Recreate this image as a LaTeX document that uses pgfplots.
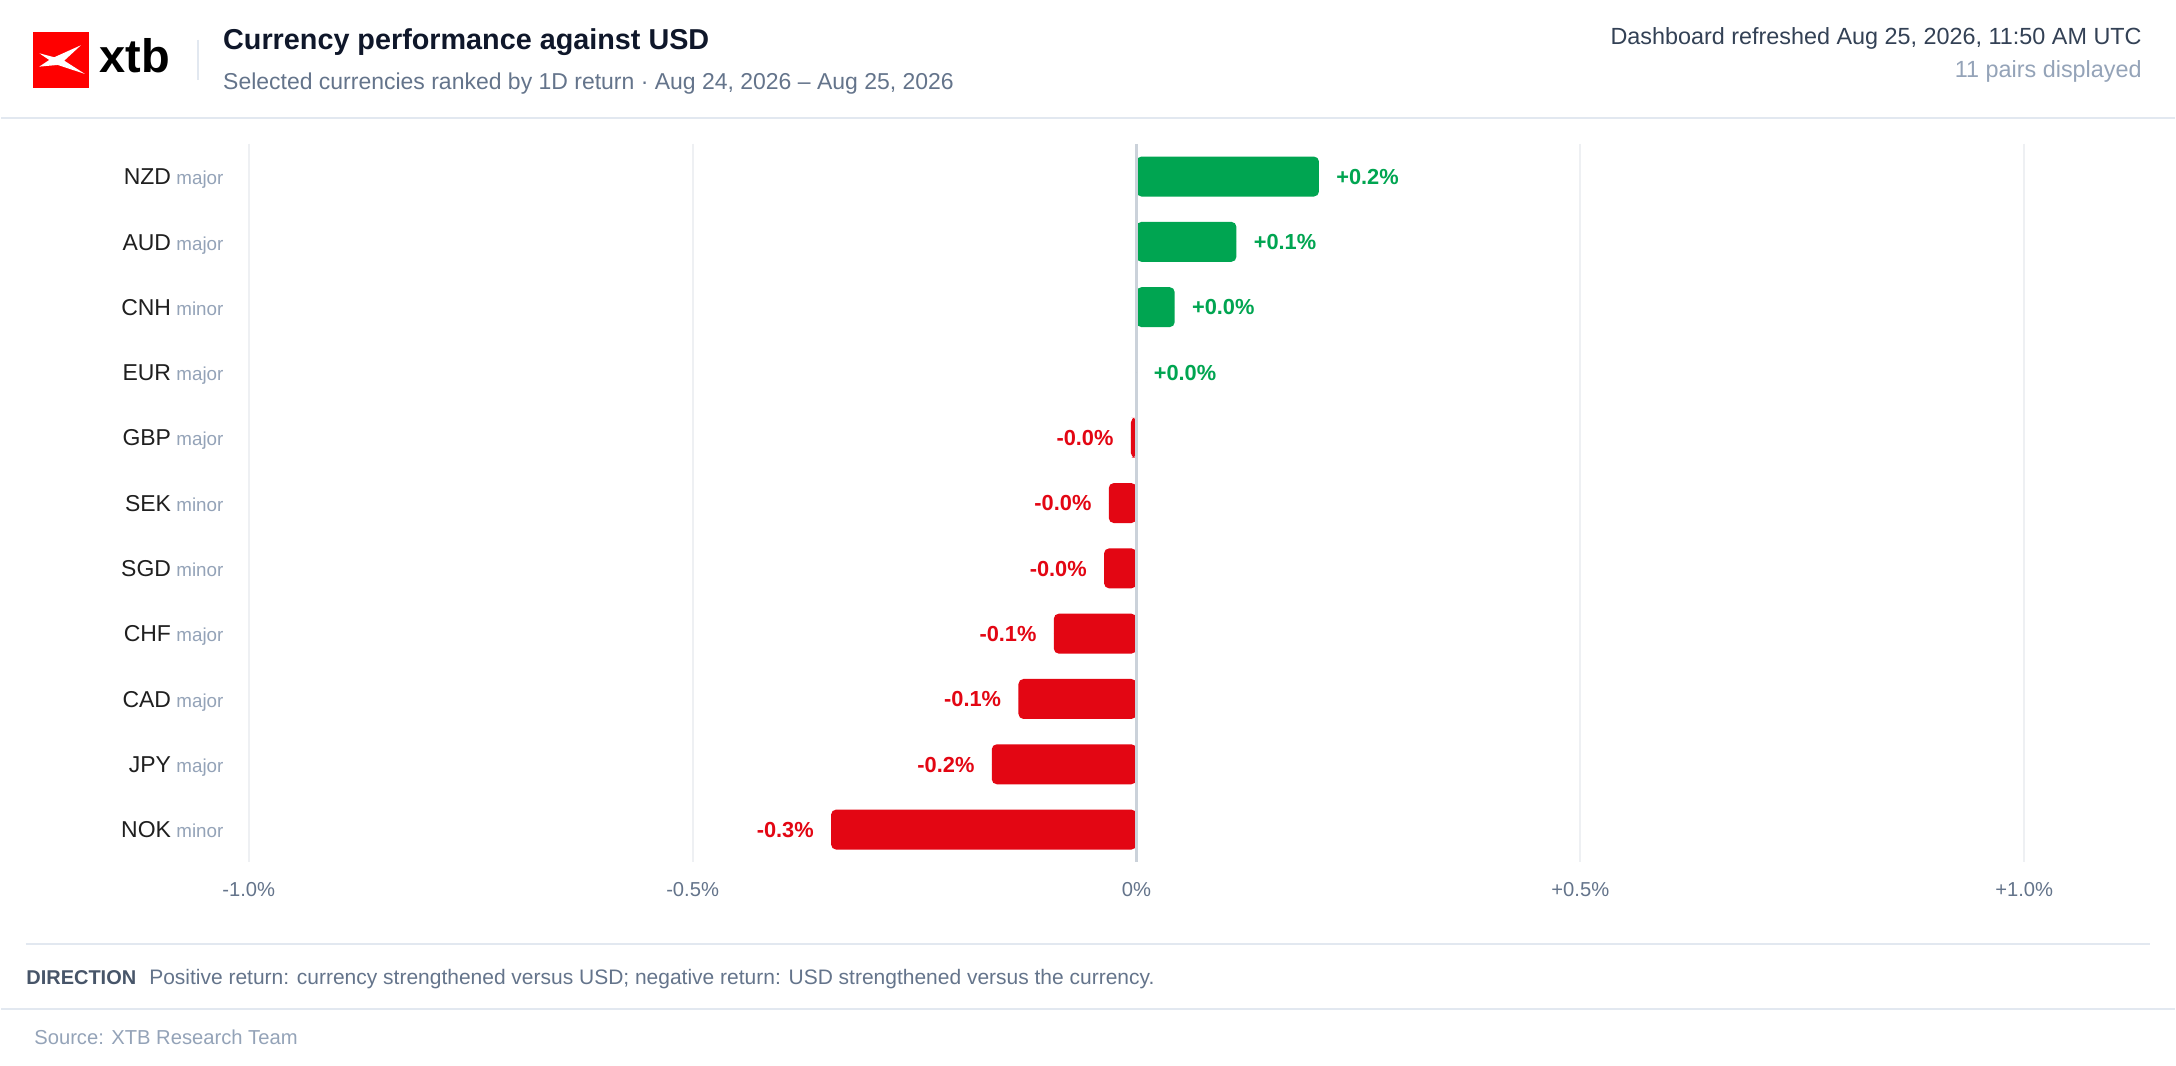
\documentclass[border=0pt]{standalone}
\usepackage{pgfplots}
\pgfplotsset{compat=1.18}
\usepackage{pgfplotstable}
\usepackage{fontspec}
\setmainfont{Liberation Sans}
\definecolor{posc}{HTML}{00A551}
\definecolor{negc}{HTML}{E30613}
\definecolor{ttl}{HTML}{0F172A}
\definecolor{slate}{HTML}{64748B}
\definecolor{dash}{HTML}{334155}
\definecolor{muted}{HTML}{94A3B8}
\definecolor{codec}{HTML}{1F1F1F}
\definecolor{gridc}{HTML}{EEF0F3}
\definecolor{zeroc}{HTML}{CBD2DA}
\definecolor{rulec}{HTML}{E2E8F0}
\definecolor{dirc}{HTML}{475569}
\definecolor{xtbred}{HTML}{FF0000}
\newcommand\fs[1]{\fontsize{#1}{#1}\selectfont}
\newcommand\cl[2]{{\fs{11.5}\color{codec}#1}\hspace{2.7pt}{\fs{9.4}\color{muted}#2}}

\pgfplotstableread{
r v
0 0.2056
1 0.1126
2 0.0431
}\postab
\pgfplotstableread{
r v
4 -0.0064
5 -0.0312
6 -0.0365
7 -0.0931
8 -0.1329
9 -0.1630
10 -0.3440
}\negtab

\begin{document}
\begin{tikzpicture}[x=0.5pt,y=-0.5pt]
\fill[white] (0,0) rectangle (2176,1066);
% logo
\fill[xtbred] (32,32) rectangle (88,88);
\fill[white] (38.3,53.3) -- (53.3,57.3) -- (80,45.3) -- (63.3,60.7) -- (84,74) -- (56.7,65) -- (38.3,66.7) -- (48.3,60) -- cycle;
\node[anchor=base west, inner sep=0pt] at (98,73) {\fs{23.5}\bfseries xtb};
\draw[rulec, line width=1pt] (197,40) -- (197,80);
\node[anchor=base west, inner sep=0pt] at (222,50) {\fs{14.4}\bfseries\color{ttl}Currency performance against USD};
\node[anchor=base west, inner sep=0pt] at (222,90) {\fs{11.5}\color{slate}Selected currencies ranked by 1D return · Aug 24, 2026 – Aug 25, 2026};
\node[anchor=base east, inner sep=0pt] at (2143,44.4) {\fs{11.7}\color{dash}Dashboard refreshed Aug 25, 2026, 11:50 AM UTC};
\node[anchor=base east, inner sep=0pt] at (2143,77.8) {\fs{11.7}\color{muted}11 pairs displayed};
\draw[rulec, line width=1pt] (0,118) -- (2176,118);
% footer
\draw[rulec, line width=1pt] (25,945) -- (2151,945);
\node[anchor=base west, inner sep=0pt] at (25,985) {\fs{10}\bfseries\color{dirc}DIRECTION};
\node[anchor=base west, inner sep=0pt] at (148,985) {\fs{10.5}\color{slate}Positive return: currency strengthened versus USD; negative return: USD strengthened versus the currency.};
\draw[rulec, line width=1pt] (0,1010) -- (2176,1010);
\node[anchor=base west, inner sep=0pt] at (33,1045) {\fs{10.1}\color{muted}Source: XTB Research Team};
\coordinate (A) at (248,863);
\begin{axis}[at={(A)}, anchor=south west, scale only axis,
  width=888.5pt, height=359.5pt,
  xmin=-1, xmax=1, ymin=-0.5, ymax=10.5, y dir=reverse,
  axis line style={draw=none}, major tick length=0pt,
  axis on top,
  xtick={-1,-0.5,0.5,1}, xticklabels={-1.0\%,-0.5\%,+0.5\%,+1.0\%},
  extra x ticks={0}, extra x tick labels={0\%},
  extra x tick style={grid style={zeroc, line width=1.2pt}},
  xticklabel style={inner sep=0pt, anchor=base, yshift=-16.9pt, font={\fs{10.1}}, text=slate},
  xmajorgrids, grid style={gridc, line width=1pt},
  ytick={0,...,10},
  yticklabels={\cl{NZD}{major},\cl{AUD}{major},\cl{CNH}{minor},\cl{EUR}{major},\cl{GBP}{major},\cl{SEK}{minor},\cl{SGD}{minor},\cl{CHF}{major},\cl{CAD}{major},\cl{JPY}{major},\cl{NOK}{minor}},
  yticklabel style={inner sep=0pt, anchor=base east, xshift=-12.5pt, yshift=-4.1pt},
  clip=false,
]
\addplot[xbar, bar shift=0pt, bar width=20pt, fill=posc, draw=none, rounded corners=2.5pt] table[x=v,y=r]{\postab};
\addplot[xbar, bar shift=0pt, bar width=20pt, fill=negc, draw=none, rounded corners=2.5pt] table[x=v,y=r]{\negtab};
\addplot[only marks, mark=*, mark size=0pt, mark options={draw=none,fill=none},
  point meta=explicit symbolic, nodes near coords,
  nodes near coords style={anchor=base west, inner sep=0pt, xshift=8.5pt, yshift=-3.9pt, text=posc, font={\fs{10.9}\bfseries}}]
  coordinates {(0.2056,0) [+0.2\%] (0.1126,1) [+0.1\%] (0.0431,2) [+0.0\%] (0,3) [+0.0\%]};
\addplot[only marks, mark=*, mark size=0pt, mark options={draw=none,fill=none},
  point meta=explicit symbolic, nodes near coords,
  nodes near coords style={anchor=base east, inner sep=0pt, xshift=-8.5pt, yshift=-3.9pt, text=negc, font={\fs{10.9}\bfseries}}]
  coordinates {(-0.0064,4) [-0.0\%] (-0.0312,5) [-0.0\%] (-0.0365,6) [-0.0\%] (-0.0931,7) [-0.1\%] (-0.1329,8) [-0.1\%] (-0.163,9) [-0.2\%] (-0.344,10) [-0.3\%]};
\end{axis}
\end{tikzpicture}
\end{document}
